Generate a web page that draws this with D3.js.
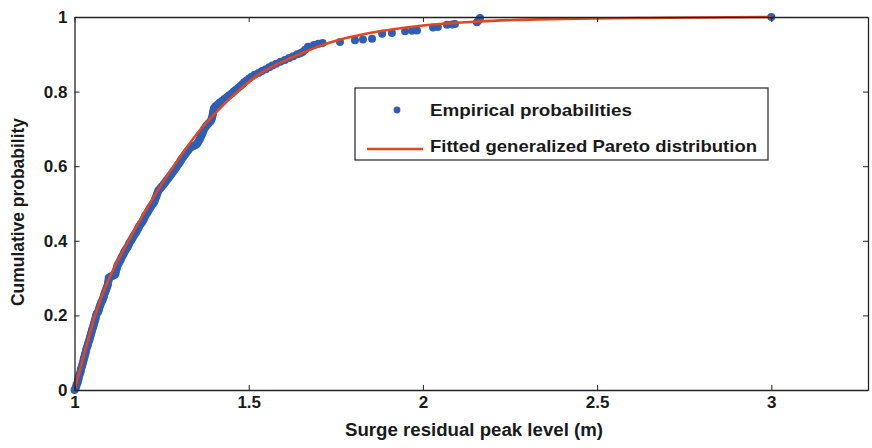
<!DOCTYPE html>
<html><head><meta charset="utf-8">
<script src="https://cdn.jsdelivr.net/npm/d3@7"></script>
<style>html,body{margin:0;padding:0;background:#fff;}svg{display:block;}</style>
</head><body>
<script>
const xTicks = [1, 1.5, 2, 2.5, 3];
const xTickLabels = ["1", "1.5", "2", "2.5", "3"];
const yTicks = [0, 0.2, 0.4, 0.6, 0.8, 1];
const yTickLabels = ["0", "0.2", "0.4", "0.6", "0.8", "1"];
const legendLabels = ["Empirical probabilities", "Fitted generalized Pareto distribution"];
const xTitle = "Surge residual peak level (m)";
const yTitle = "Cumulative probability";

const fittedX = [1.000,1.030,1.059,1.100,1.145,1.200,1.245,1.303,1.360,1.412,1.470,1.524,1.580,1.620,1.700,1.760,1.840,1.920,2.000,2.160,2.400,2.700,3.000];
const fittedP = [0,0.105,0.200,0.300,0.383,0.475,0.544,0.625,0.697,0.750,0.802,0.843,0.873,0.890,0.921,0.939,0.956,0.968,0.977,0.988,0.995,0.998,1.000];

const empiricalX = [
1.000,1.003,1.005,1.006,1.009,1.010,1.012,1.012,1.014,1.016,1.018,1.018,1.020,1.022,1.023,1.025,1.026,1.027,1.029,1.030,
1.032,1.033,1.034,1.036,1.038,1.039,1.041,1.043,1.044,1.046,1.047,1.049,1.050,1.052,1.054,1.055,1.057,1.058,1.060,1.061,
1.062,1.064,1.068,1.070,1.071,1.073,1.075,1.077,1.080,1.082,1.084,1.085,1.087,1.089,1.091,1.093,1.095,1.096,1.097,1.098,
1.098,1.102,1.106,1.110,1.114,1.117,1.118,1.119,1.121,1.122,1.124,1.127,1.130,1.133,1.135,1.138,1.141,1.143,1.146,1.150,
1.153,1.156,1.158,1.162,1.165,1.168,1.171,1.175,1.178,1.181,1.184,1.186,1.190,1.194,1.197,1.200,1.202,1.205,1.209,1.212,
1.215,1.218,1.222,1.226,1.229,1.231,1.233,1.235,1.237,1.239,1.241,1.246,1.250,1.255,1.259,1.263,1.267,1.271,1.275,1.279,
1.283,1.287,1.291,1.294,1.298,1.302,1.305,1.308,1.312,1.316,1.320,1.324,1.328,1.333,1.338,1.343,1.348,1.352,1.355,1.358,
1.361,1.363,1.366,1.368,1.370,1.372,1.376,1.380,1.385,1.390,1.393,1.395,1.396,1.397,1.398,1.399,1.400,1.404,1.410,1.416,
1.423,1.430,1.437,1.444,1.451,1.457,1.463,1.470,1.476,1.482,1.487,1.494,1.501,1.508,1.517,1.528,1.538,1.549,1.559,1.568,
1.579,1.591,1.604,1.616,1.628,1.640,1.648,1.655,1.662,1.670,1.687,1.700,1.712,
1.762,1.805,1.828,1.854,1.883,1.911,1.949,1.969,1.983,2.029,2.043,2.069,2.084,2.092,2.155,2.161,2.164,3.000];
const empiricalP = [
0.000,0.005,0.010,0.015,0.020,0.025,0.030,0.035,0.040,0.045,0.050,0.055,0.060,0.065,0.070,0.075,0.080,0.085,0.090,0.095,
0.100,0.105,0.110,0.115,0.120,0.125,0.130,0.135,0.140,0.145,0.150,0.155,0.160,0.165,0.170,0.175,0.180,0.185,0.190,0.195,
0.200,0.205,0.210,0.215,0.220,0.225,0.230,0.235,0.240,0.245,0.250,0.255,0.260,0.265,0.270,0.275,0.280,0.285,0.290,0.295,
0.300,0.303,0.305,0.306,0.308,0.310,0.315,0.320,0.325,0.330,0.335,0.340,0.345,0.350,0.355,0.360,0.365,0.370,0.375,0.380,
0.385,0.390,0.395,0.400,0.405,0.410,0.415,0.420,0.425,0.430,0.435,0.440,0.445,0.450,0.455,0.460,0.465,0.470,0.475,0.480,
0.485,0.490,0.495,0.500,0.505,0.510,0.515,0.520,0.525,0.530,0.535,0.540,0.545,0.550,0.555,0.560,0.565,0.570,0.575,0.580,
0.585,0.590,0.595,0.600,0.605,0.610,0.615,0.620,0.625,0.630,0.635,0.640,0.645,0.650,0.653,0.655,0.657,0.660,0.665,0.670,
0.675,0.680,0.685,0.690,0.695,0.700,0.705,0.710,0.715,0.720,0.725,0.730,0.735,0.740,0.745,0.750,0.755,0.760,0.765,0.770,
0.775,0.780,0.785,0.790,0.795,0.800,0.805,0.810,0.815,0.820,0.825,0.830,0.835,0.840,0.845,0.850,0.855,0.860,0.865,0.870,
0.875,0.880,0.885,0.890,0.895,0.900,0.903,0.906,0.912,0.920,0.925,0.928,0.930,
0.933,0.938,0.940,0.942,0.955,0.957,0.962,0.963,0.964,0.972,0.973,0.979,0.980,0.981,0.986,0.992,0.997,1.000];

const W = 872, H = 448;
const M = {left: 74.5, right: 868, top: 17, bottom: 390};
const blue = "#2f5fb3", red = "#e5461f", axisCol = "#222";
const font = "'Liberation Sans', Arial, sans-serif";

const svg = d3.select("body").append("svg").attr("width", W).attr("height", H);
const x = d3.scaleLinear().domain([1, 3.2775]).range([M.left, M.right]);
const y = d3.scaleLinear().domain([0, 1]).range([M.bottom, M.top]);

const emp = empiricalX.map((v, i) => ({x: v, p: empiricalP[i]}));
const fit = fittedX.map((v, i) => ({x: v, p: fittedP[i]}));

// data
svg.append("g").selectAll("circle").data(emp).join("circle")
  .attr("cx", d => x(d.x)).attr("cy", d => y(d.p)).attr("r", 4).attr("fill", blue);
svg.append("path").datum(fit)
  .attr("d", d3.line().x(d => x(d.x)).y(d => y(d.p)).curve(d3.curveMonotoneX))
  .attr("fill", "none").attr("stroke", red).attr("stroke-width", 2.6);

// axes (box with inward ticks)
const bottomAxis = d3.axisBottom(x).tickValues(xTicks).tickFormat((d, i) => xTickLabels[i]).tickSizeInner(-5).tickSizeOuter(0).tickPadding(6);
const leftAxis = d3.axisLeft(y).tickValues(yTicks).tickFormat((d, i) => yTickLabels[i]).tickSizeInner(-5).tickSizeOuter(0).tickPadding(7);
const topAxis = d3.axisTop(x).tickValues(xTicks).tickFormat("").tickSizeInner(-5).tickSizeOuter(0);
const rightAxis = d3.axisRight(y).tickValues(yTicks).tickFormat("").tickSizeInner(-5).tickSizeOuter(0);

function style(g) {
  g.selectAll("path.domain").attr("stroke", axisCol).attr("stroke-width", 1.3);
  g.selectAll(".tick line").attr("stroke", axisCol).attr("stroke-width", 1);
  g.selectAll(".tick text").attr("font-family", font).attr("font-weight", "bold").attr("font-size", 17).attr("fill", "#1a1a1a");
}
svg.append("g").attr("transform", `translate(0,${M.bottom})`).call(bottomAxis).call(style);
svg.append("g").attr("transform", `translate(${M.left},0)`).call(leftAxis).call(style);
svg.append("g").attr("transform", `translate(0,${M.top})`).call(topAxis).call(style);
svg.append("g").attr("transform", `translate(${M.right},0)`).call(rightAxis).call(style);

// titles
svg.append("text").attr("x", 474).attr("y", 436).attr("text-anchor", "middle")
  .attr("font-family", font).attr("font-weight", "bold").attr("font-size", 18).attr("fill", "#1a1a1a")
  .attr("textLength", 258).attr("lengthAdjust", "spacingAndGlyphs").text(xTitle);
svg.append("text").attr("transform", "translate(24,212) rotate(-90)").attr("text-anchor", "middle")
  .attr("font-family", font).attr("font-weight", "bold").attr("font-size", 18).attr("fill", "#1a1a1a")
  .attr("textLength", 188).attr("lengthAdjust", "spacingAndGlyphs").text(yTitle);

// legend
const lg = svg.append("g");
lg.append("rect").attr("x", 355).attr("y", 88).attr("width", 413).attr("height", 72)
  .attr("fill", "#fff").attr("stroke", axisCol).attr("stroke-width", 1.2);
lg.append("circle").attr("cx", 397).attr("cy", 110).attr("r", 3.4).attr("fill", blue);
lg.append("line").attr("x1", 367).attr("x2", 423).attr("y1", 149).attr("y2", 149).attr("stroke", red).attr("stroke-width", 2.6);
const legendWidths = [202, 327];
const legendY = [116, 152];
legendLabels.forEach((t, i) => {
  lg.append("text").attr("x", 430).attr("y", legendY[i])
    .attr("font-family", font).attr("font-weight", "bold").attr("font-size", 17).attr("fill", "#1a1a1a")
    .attr("textLength", legendWidths[i]).attr("lengthAdjust", "spacingAndGlyphs").text(t);
});
</script>
</body></html>
